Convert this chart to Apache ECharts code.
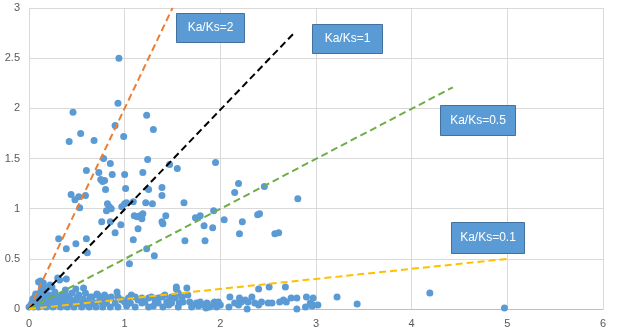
<!DOCTYPE html>
<html>
<head>
<meta charset="utf-8">
<script src="https://cdn.jsdelivr.net/npm/echarts@6/dist/echarts.min.js"></script>
<style>
  html, body { margin: 0; padding: 0; background: #fff; }
  #chart { width: 617px; height: 333px; }
</style>
</head>
<body>
<div id="chart"></div>
<script>
// Ks (x) vs Ka (y) of gene pairs
var upperPoints = [
  [0.94,2.50],[0.46,1.96],[0.93,2.05],[1.23,1.93],[1.30,1.79],[0.90,1.83],[0.99,1.72],[0.54,1.75],
  [0.42,1.67],[0.68,1.68],[0.78,1.50],[0.85,1.45],[1.24,1.49],[1.47,1.44],[1.55,1.40],[1.95,1.46],
  [0.60,1.38],[0.73,1.36],[0.75,1.29],[0.77,1.27],[0.79,1.28],[0.80,1.19],[0.87,1.34],[1.00,1.34],
  [1.01,1.20],[1.19,1.36],[1.25,1.19],[1.39,1.21],[1.39,1.13],[0.44,1.14],[0.48,1.09],[0.52,1.12],
  [0.59,1.13],[0.53,1.01],[0.82,1.05],[0.84,1.02],[0.86,1.00],[0.81,0.98],[0.76,0.87],[0.85,0.87],
  [0.90,0.76],[0.96,0.84],[0.97,1.02],[1.00,1.05],[1.02,1.06],[1.09,1.07],[1.10,0.93],[1.13,0.92],
  [1.16,0.93],[1.18,0.90],[1.19,0.95],[1.14,0.80],[1.09,0.69],[1.22,1.06],[1.29,1.05],[1.39,0.87],
  [1.40,0.85],[1.43,0.93],[1.05,0.45],[1.23,0.60],[1.31,0.53],[1.62,1.06],[1.63,0.68],[1.74,0.91],
  [1.79,0.93],[1.83,0.83],[1.84,0.68],[1.92,0.81],[1.93,0.98],[2.04,0.89],[2.15,1.16],[2.19,1.25],
  [2.23,0.87],[2.20,0.75],[2.39,0.94],[2.41,0.95],[2.46,1.22],[2.57,0.75],[2.61,0.76],[2.81,1.10],
  [0.31,0.70],[0.39,0.60],[0.49,0.65],[0.60,0.70],[0.61,0.56],[0.12,0.28],[0.30,0.31],[0.39,0.30],
  [0.22,0.24]
];

var bandPoints = [
  [0.00,0.02],[0.02,0.04],[0.03,0.06],[0.04,0.10],[0.05,0.02],[0.06,0.12],[0.07,0.15],[0.08,0.05],
  [0.09,0.08],[0.10,0.02],[0.10,0.27],[0.11,0.12],[0.12,0.17],[0.13,0.07],[0.14,0.04],[0.15,0.26],
  [0.15,0.14],[0.16,0.10],[0.17,0.19],[0.18,0.02],[0.19,0.06],[0.20,0.09],[0.21,0.14],[0.22,0.04],
  [0.24,0.22],[0.24,0.11],[0.25,0.02],[0.26,0.07],[0.27,0.17],[0.28,0.13],[0.29,0.04],[0.31,0.07],
  [0.32,0.29],[0.33,0.02],[0.33,0.12],[0.35,0.09],[0.36,0.15],[0.37,0.05],[0.38,0.19],[0.39,0.10],
  [0.40,0.02],[0.41,0.06],[0.42,0.13],[0.44,0.09],[0.45,0.16],[0.46,0.04],[0.47,0.02],[0.48,0.07],
  [0.49,0.20],[0.50,0.11],[0.52,0.14],[0.53,0.05],[0.55,0.06],[0.55,0.02],[0.57,0.21],[0.57,0.10],
  [0.59,0.16],[0.60,0.04],[0.62,0.07],[0.63,0.02],[0.64,0.12],[0.66,0.12],[0.67,0.05],[0.69,0.06],
  [0.70,0.02],[0.71,0.15],[0.72,0.14],[0.74,0.09],[0.76,0.07],[0.77,0.02],[0.78,0.12],[0.13,0.22],
  [0.19,0.21],
  [0.79,0.14],[0.83,0.11],[0.86,0.12],[0.92,0.17],[0.93,0.12],[0.97,0.09],[1.00,0.07],[1.04,0.11],
  [1.07,0.14],[1.11,0.12],[1.14,0.09],[1.18,0.11],[1.21,0.07],[1.25,0.11],[1.28,0.12],[1.32,0.07],
  [1.35,0.11],[1.39,0.12],[1.42,0.14],[1.44,0.07],[1.47,0.09],[1.49,0.12],[1.53,0.11],[1.54,0.22],
  [1.56,0.16],[1.60,0.12],[1.61,0.07],[0.85,0.02],[0.93,0.02],[1.11,0.02],[1.25,0.02],[1.40,0.02],
  [1.56,0.02],[0.81,0.06],[0.90,0.06],[1.06,0.06],[1.18,0.06],[1.35,0.06],[1.49,0.06],[1.57,0.06],
  [1.54,0.20],[1.02,0.03],[1.30,0.03],[1.46,0.04],
  [1.65,0.21],[1.66,0.14],[1.68,0.07],[1.75,0.06],[1.79,0.07],[1.82,0.04],[1.86,0.06],[1.89,0.02],
  [1.93,0.06],[1.94,0.07],[1.98,0.07],[2.00,0.04],[2.10,0.12],[2.15,0.06],[2.19,0.04],[2.22,0.07],
  [2.26,0.09],[2.29,0.07],[2.33,0.12],[2.36,0.06],[2.40,0.04],[2.43,0.07],[2.40,0.20],[1.70,0.02],
  [1.77,0.03],[1.85,0.01],[1.96,0.02],[2.09,0.02],[2.28,0.00],[2.20,0.11],
  [2.51,0.22],[2.68,0.22],[2.50,0.06],[2.54,0.06],[2.62,0.07],[2.66,0.09],[2.69,0.07],[2.74,0.11],
  [2.80,0.11],[2.80,0.00],[2.90,0.12],[2.94,0.06],[2.97,0.11],[2.97,0.04],[3.02,0.04],[3.22,0.12],
  [2.89,0.02],[2.96,0.03],[3.43,0.05],[4.19,0.16],[4.97,0.01]
];

// reference lines Ka/Ks = ratio, drawn from the origin to these end points
var ratioNames = ['Ka/Ks=2', 'Ka/Ks=1', 'Ka/Ks=0.5', 'Ka/Ks=0.1'];
var lineEnds = [[1.5, 3.0], [2.78, 2.76], [4.43, 2.21], [5.0, 0.5]];
var lineColors = ['#ED7D31', '#000000', '#70AD47', '#FFC000'];

// text boxes (pixel layout)
var boxes = [
  { left: 176, top: 13, w: 68, h: 29 },
  { left: 312, top: 24, w: 70, h: 29 },
  { left: 440, top: 105, w: 75, h: 30 },
  { left: 451, top: 222, w: 73, h: 31 }
];

var myChart = echarts.init(document.getElementById('chart'));

var series = [{
  type: 'scatter',
  data: upperPoints.concat(bandPoints),
  symbolSize: 7,
  itemStyle: { color: '#5B9BD5', opacity: 1 },
  animation: false
}];
lineEnds.forEach(function (end, i) {
  series.push({
    name: ratioNames[i],
    type: 'line',
    data: [[0, 0], end],
    showSymbol: false,
    symbol: 'none',
    lineStyle: { color: lineColors[i], width: 2, type: [7, 4] },
    z: 3,
    animation: false
  });
});

myChart.setOption({
  backgroundColor: '#ffffff',
  animation: false,
  grid: { left: 29, right: 14, top: 8, bottom: 24 },
  xAxis: {
    type: 'value',
    min: 0,
    max: 6,
    interval: 1,
    axisLine: { lineStyle: { color: '#bfbfbf' } },
    axisTick: { show: false },
    axisLabel: { color: '#595959', fontSize: 11, fontFamily: 'Liberation Sans', margin: 9 },
    splitLine: { lineStyle: { color: '#d9d9d9' } }
  },
  yAxis: {
    type: 'value',
    min: 0,
    max: 3,
    interval: 0.5,
    axisLine: { show: true, lineStyle: { color: '#d9d9d9' } },
    axisTick: { show: false },
    axisLabel: { color: '#595959', fontSize: 11, fontFamily: 'Liberation Sans', margin: 9 },
    splitLine: { lineStyle: { color: '#d9d9d9' } }
  },
  series: series,
  graphic: boxes.map(function (b, i) {
    return {
      type: 'group',
      left: b.left,
      top: b.top,
      z: 100,
      zlevel: 1,
      children: [{
        type: 'rect',
        z: 100,
        zlevel: 1,
        shape: { x: 0, y: 0, width: b.w, height: b.h },
        style: { fill: '#5B9BD5', stroke: '#41719C', lineWidth: 1 }
      }, {
        type: 'text',
        z: 101,
        zlevel: 1,
        x: b.w / 2,
        y: b.h / 2,
        style: {
          text: ratioNames[i],
          fill: '#ffffff',
          font: '12px "Liberation Sans"',
          align: 'center',
          verticalAlign: 'middle'
        }
      }]
    };
  })
});
</script>
</body>
</html>
